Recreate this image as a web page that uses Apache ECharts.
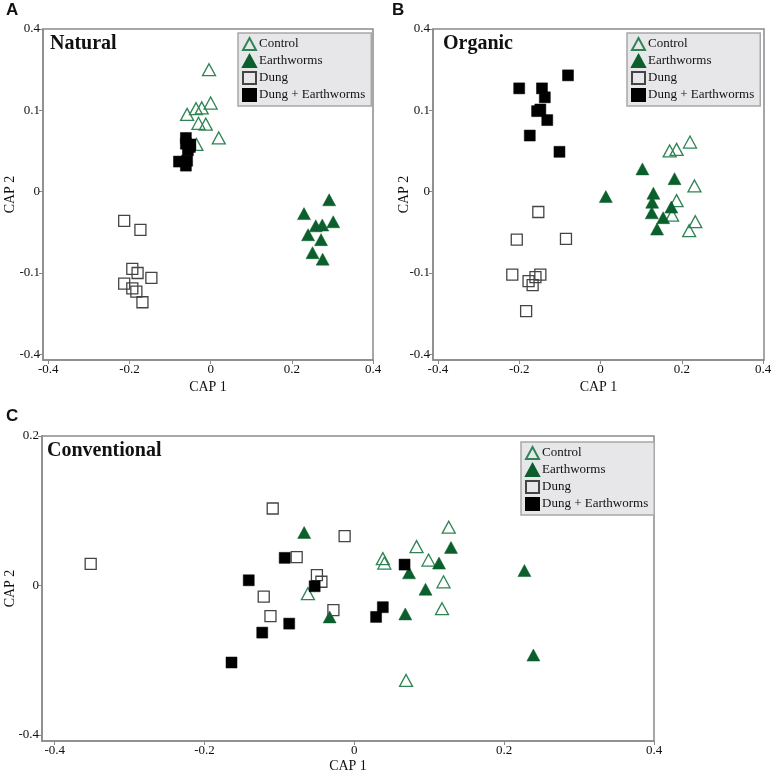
<!DOCTYPE html>
<html>
<head>
<meta charset="utf-8">
<script src="https://cdn.jsdelivr.net/npm/echarts@6/dist/echarts.min.js"></script>
<style>
  html, body { margin: 0; padding: 0; background: #fff; }
  #chart { width: 772px; height: 774px; }
</style>
</head>
<body>
<div id="chart"></div>
<script>
// group names
const groupNames = ['Control', 'Earthworms', 'Dung', 'Dung + Earthworms'];

// tick values and the labels printed on them
const xTickValues = [-0.4, -0.2, 0, 0.2, 0.4];
const xTickLabels = ['-0.4', '-0.2', '0', '0.2', '0.4'];
const yTickValuesAB = [-0.2, -0.1, 0, 0.1, 0.2];
const yTickLabelsAB = ['-0.4', '-0.1', '0', '0.1', '0.4'];
const yTickValuesC = [-0.2, 0, 0.2];
const yTickLabelsC = ['-0.4', '0', '0.2'];

// A: Natural
const naturalControl = [[-0.004, 0.150], [0.0, 0.109], [-0.036, 0.102], [-0.022, 0.103], [-0.058, 0.095],
  [-0.030, 0.084], [-0.012, 0.083], [0.020, 0.066], [-0.035, 0.058]];
const naturalEarthworms = [[0.292, -0.010], [0.230, -0.027], [0.259, -0.042], [0.275, -0.041], [0.302, -0.037],
  [0.240, -0.053], [0.272, -0.059], [0.251, -0.075], [0.276, -0.083]];
const naturalDung = [[-0.213, -0.036], [-0.173, -0.047], [-0.193, -0.095], [-0.180, -0.100], [-0.146, -0.106],
  [-0.213, -0.113], [-0.193, -0.119], [-0.183, -0.123], [-0.168, -0.136]];
const naturalDungEw = [[-0.061, 0.066], [-0.061, 0.059], [-0.051, 0.055], [-0.056, 0.051], [-0.050, 0.058],
  [-0.078, 0.037], [-0.058, 0.038], [-0.061, 0.032]];

// B: Organic
const organicControl = [[0.220, 0.061], [0.170, 0.050], [0.187, 0.052], [0.231, 0.007], [0.187, -0.011],
  [0.176, -0.029], [0.233, -0.037], [0.218, -0.048]];
const organicEarthworms = [[0.103, 0.028], [0.182, 0.016], [0.013, -0.006], [0.130, -0.002], [0.127, -0.013],
  [0.174, -0.019], [0.126, -0.026], [0.154, -0.032], [0.139, -0.046]];
const organicDung = [[-0.153, -0.025], [-0.206, -0.059], [-0.085, -0.058], [-0.217, -0.102], [-0.148, -0.102],
  [-0.160, -0.105], [-0.177, -0.110], [-0.167, -0.115], [-0.183, -0.147]];
const organicDungEw = [[-0.080, 0.143], [-0.200, 0.127], [-0.144, 0.127], [-0.137, 0.116], [-0.156, 0.099],
  [-0.148, 0.101], [-0.131, 0.088], [-0.174, 0.069], [-0.101, 0.049]];

// C: Conventional
const convControl = [[0.126, 0.078], [0.083, 0.052], [0.038, 0.036], [0.040, 0.030], [0.099, 0.034],
  [0.119, 0.005], [-0.062, -0.011], [0.117, -0.031], [0.069, -0.127]];
const convEarthworms = [[-0.067, 0.071], [0.129, 0.051], [0.113, 0.030], [0.073, 0.017], [0.227, 0.020],
  [0.095, -0.005], [-0.033, -0.042], [0.068, -0.038], [0.239, -0.093]];
const convDung = [[-0.352, 0.029], [-0.109, 0.103], [-0.013, 0.066], [-0.077, 0.038], [-0.050, 0.014],
  [-0.044, 0.005], [-0.121, -0.015], [-0.028, -0.033], [-0.112, -0.041]];
const convDungEw = [[-0.093, 0.037], [0.067, 0.028], [-0.141, 0.007], [-0.053, -0.001], [0.038, -0.029],
  [0.029, -0.042], [-0.087, -0.051], [-0.123, -0.063], [-0.164, -0.103]];

const serif = 'Liberation Serif';
const axisGray = '#8a8a8a';

function lookup(values, labels) {
  return function (v) {
    const i = values.findIndex(t => Math.abs(t - v) < 1e-9);
    return i >= 0 ? labels[i] : '';
  };
}

// marker styles per group
const groupStyles = [
  { symbol: 'triangle', symbolSize: [13, 12], itemStyle: { color: 'rgba(255,255,255,0)', borderColor: '#2f8455', borderWidth: 1.3, opacity: 1 } },
  { symbol: 'triangle', symbolSize: [13, 12], itemStyle: { color: '#0a5f2c', borderColor: '#0a5f2c', borderWidth: 0.5, opacity: 1 } },
  { symbol: 'rect', symbolSize: 11, itemStyle: { color: 'rgba(255,255,255,0)', borderColor: '#444', borderWidth: 1.3, opacity: 1 } },
  { symbol: 'rect', symbolSize: 11, itemStyle: { color: '#000', borderColor: '#000', borderWidth: 0.5, opacity: 1 } }
];

const panels = [
  { grid: { left: 43, top: 29, width: 330, height: 331 }, xMin: -0.413, xMax: 0.4, yMin: -0.207, yMax: 0.2,
    yVals: yTickValuesAB, yLabs: yTickLabelsAB, data: [naturalControl, naturalEarthworms, naturalDung, naturalDungEw],
    legend: { left: 238, top: 33 }, nameGapX: 20, nameGapY: 26 },
  { grid: { left: 433, top: 29, width: 331, height: 331 }, xMin: -0.412, xMax: 0.402, yMin: -0.207, yMax: 0.2,
    yVals: yTickValuesAB, yLabs: yTickLabelsAB, data: [organicControl, organicEarthworms, organicDung, organicDungEw],
    legend: { left: 627, top: 33 }, nameGapX: 20, nameGapY: 22 },
  { grid: { left: 42, top: 436, width: 612, height: 305 }, xMin: -0.417, xMax: 0.4, yMin: -0.208, yMax: 0.2,
    yVals: yTickValuesC, yLabs: yTickLabelsC, data: [convControl, convEarthworms, convDung, convDungEw],
    legend: { left: 521, top: 442 }, nameGapX: 18, nameGapY: 25 }
];

const grids = [], xAxes = [], yAxes = [], series = [], legends = [];
panels.forEach((p, k) => {
  grids.push(Object.assign({ show: true, borderColor: axisGray, borderWidth: 1.5, containLabel: false,
    outerBoundsMode: 'none' }, p.grid));
  xAxes.push({
    type: 'value', gridIndex: k, min: p.xMin, max: p.xMax,
    name: 'CAP 1', nameLocation: 'middle', nameGap: p.nameGapX, nameMoveOverlap: false,
    nameTextStyle: { fontFamily: serif, fontSize: 14, color: '#111' },
    axisLine: { show: true, onZero: false, lineStyle: { color: axisGray, width: 1.5 } },
    axisTick: { show: true, length: 4, customValues: xTickValues, lineStyle: { color: axisGray } },
    axisLabel: { customValues: xTickValues, formatter: lookup(xTickValues, xTickLabels),
      fontFamily: serif, fontSize: 13, color: '#111', margin: 3 },
    splitLine: { show: false }
  });
  yAxes.push({
    type: 'value', gridIndex: k, min: p.yMin, max: p.yMax,
    name: 'CAP 2', nameLocation: 'middle', nameGap: p.nameGapY, nameMoveOverlap: false,
    nameTextStyle: { fontFamily: serif, fontSize: 14, color: '#111' },
    axisLine: { show: true, onZero: false, lineStyle: { color: axisGray, width: 1.5 } },
    axisTick: { show: true, length: 4, customValues: p.yVals, lineStyle: { color: axisGray } },
    axisLabel: { customValues: p.yVals, formatter: lookup(p.yVals, p.yLabs),
      fontFamily: serif, fontSize: 13, color: '#111', margin: 3 },
    splitLine: { show: false }
  });
  groupNames.forEach((name, g) => {
    series.push(Object.assign({
      name: name, type: 'scatter', xAxisIndex: k, yAxisIndex: k,
      data: p.data[g], z: 2 + g, emphasis: { disabled: true }
    }, groupStyles[g]));
  });
  legends.push({
    left: p.legend.left, top: p.legend.top, orient: 'vertical',
    data: groupNames, itemWidth: 13, itemHeight: 12, itemGap: 3,
    padding: [4, 6, 4, 4], backgroundColor: '#e7e7e9', borderColor: '#a8a8a8', borderWidth: 1.5,
    selectedMode: false,
    textStyle: { fontFamily: serif, fontSize: 13, color: '#111', padding: [0, 0, 0, -2] }
  });
});

const letterStyle = { fontFamily: 'Liberation Sans', fontWeight: 'bold', fontSize: 17, color: '#111' };
const titleStyle = { fontFamily: serif, fontWeight: 'bold', fontSize: 20, color: '#111' };

const option = {
  animation: false,
  title: [
    { text: 'A', left: 6, top: 2, padding: 0, textStyle: letterStyle },
    { text: 'B', left: 392, top: 2, padding: 0, textStyle: letterStyle },
    { text: 'C', left: 6, top: 408, padding: 0, textStyle: letterStyle },
    { text: 'Natural', left: 50, top: 34, padding: 0, textStyle: titleStyle },
    { text: 'Organic', left: 443, top: 34, padding: 0, textStyle: titleStyle },
    { text: 'Conventional', left: 47, top: 441, padding: 0, textStyle: titleStyle }
  ],
  grid: grids,
  xAxis: xAxes,
  yAxis: yAxes,
  legend: legends,
  series: series
};

const chart = echarts.init(document.getElementById('chart'));
chart.setOption(option);
</script>
</body>
</html>
